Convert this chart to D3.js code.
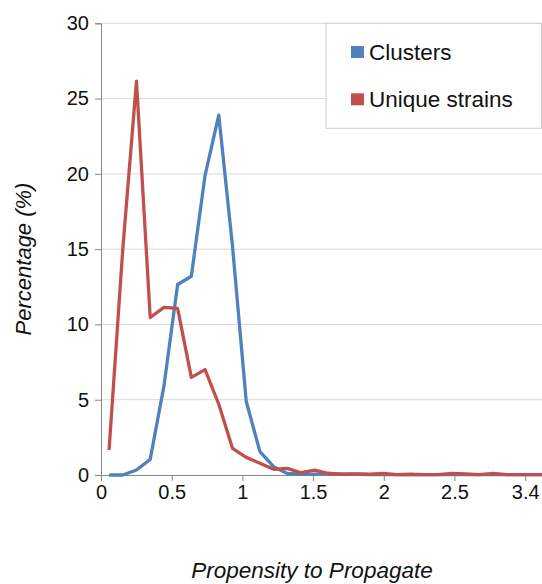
<!DOCTYPE html>
<html>
<head>
<meta charset="utf-8">
<script src="https://cdn.jsdelivr.net/npm/d3@7"></script>
<style>
  html, body { margin: 0; padding: 0; background: #fff; }
  svg { display: block; font-family: "Liberation Sans", Arial, Helvetica, sans-serif; }
</style>
</head>
<body>
<svg id="chart" width="542" height="584"></svg>
<script>
// ---- data ----
const propensity = [0.057, 0.154, 0.251, 0.348, 0.445, 0.542, 0.639, 0.736, 0.833, 0.930,
  1.027, 1.124, 1.221, 1.318, 1.415, 1.512, 1.609, 1.706, 1.803, 1.900,
  1.997, 2.094, 2.191, 2.288, 2.385, 2.482, 2.579, 2.676, 2.773, 2.870,
  2.967, 3.064, 3.161];
const clusters = [0, 0, 0.33, 1.04, 5.9, 12.65, 13.2, 19.9, 23.9, 15.2,
  4.9, 1.55, 0.55, 0.1, 0.05, 0.05, 0.1, 0.05, 0.05, 0.03,
  0.03, 0.03, 0.03, 0.03, 0.03, 0.03, 0.03, 0.03, 0.03, 0.03,
  0.03, 0.03, 0.03];
const uniqueStrains = [1.66, 15.0, 26.16, 10.46, 11.13, 11.06, 6.48, 7.0, 4.7, 1.77,
  1.17, 0.78, 0.38, 0.44, 0.15, 0.33, 0.1, 0.05, 0.08, 0.05,
  0.1, 0.03, 0.05, 0.03, 0.03, 0.1, 0.08, 0.03, 0.1, 0.03,
  0.03, 0.03, 0.03];
const seriesNames = ["Clusters", "Unique strains"];
const seriesColors = ["#4F81BD", "#C0504D"];
const xTickValues = [0, 0.5, 1, 1.5, 2, 2.5, 3];
const xTickLabels = ["0", "0.5", "1", "1.5", "2", "2.5", "3.4"];
const yTickValues = [0, 5, 10, 15, 20, 25, 30];

// ---- layout ----
const svg = d3.select("#chart");
const plotLeft = 101, plotRight = 542, plotTop = 23.3, plotBottom = 475;
const x = d3.scaleLinear().domain([0, 3.119]).range([plotLeft, plotRight]);
const y = d3.scaleLinear().domain([0, 30]).range([plotBottom, plotTop]);

// gridlines
svg.append("g").selectAll("line").data(yTickValues.filter(v => v > 0)).join("line")
  .attr("x1", plotLeft).attr("x2", plotRight)
  .attr("y1", d => y(d)).attr("y2", d => y(d))
  .attr("stroke", "#d9d9d9").attr("stroke-width", 1);

// y axis
const yAxis = svg.append("g").attr("transform", `translate(${plotLeft},0)`)
  .call(d3.axisLeft(y).tickValues(yTickValues).tickSize(6).tickPadding(6));
yAxis.select(".domain").attr("stroke", "#868686");
yAxis.selectAll(".tick line").attr("stroke", "#868686");
yAxis.selectAll(".tick text").attr("font-size", 20).attr("fill", "#111")
  .attr("font-family", "Liberation Sans, Arial, sans-serif");

// x axis
const xAxis = svg.append("g").attr("transform", `translate(0,${plotBottom})`)
  .call(d3.axisBottom(x).tickValues(xTickValues)
    .tickFormat((d, i) => xTickLabels[i]).tickSize(6).tickSizeOuter(0).tickPadding(4));
xAxis.select(".domain").attr("stroke", "#868686");
xAxis.selectAll(".tick line").attr("stroke", "#868686");
xAxis.selectAll(".tick text").attr("font-size", 20).attr("fill", "#111")
  .attr("font-family", "Liberation Sans, Arial, sans-serif");

// clip
svg.append("clipPath").attr("id", "plotclip").append("rect")
  .attr("x", plotLeft).attr("y", 0).attr("width", plotRight - plotLeft).attr("height", plotBottom + 5);

const line = d3.line().x((d, i) => x(propensity[i])).y(d => y(d));
const seriesData = [clusters, uniqueStrains];
svg.append("g").attr("clip-path", "url(#plotclip)")
  .selectAll("path").data(seriesData).join("path")
  .attr("d", d => line(d))
  .attr("fill", "none")
  .attr("stroke", (d, i) => seriesColors[i])
  .attr("stroke-width", 3.3)
  .attr("stroke-linejoin", "round");

// legend
const lg = svg.append("g");
lg.append("rect").attr("x", 326).attr("y", 23.3).attr("width", 215.5).attr("height", 105)
  .attr("fill", "#fff").attr("stroke", "#cfcfcf").attr("stroke-width", 1);
seriesNames.forEach((name, i) => {
  const cy = 52 + i * 47.3;
  lg.append("rect").attr("x", 351).attr("y", cy - 6).attr("width", 13).attr("height", 12)
    .attr("fill", seriesColors[i]);
  lg.append("text").attr("x", 369).attr("y", cy + 8).attr("font-size", 22.5)
    .attr("fill", "#111").text(name);
});

// axis titles
svg.append("text").attr("x", 312).attr("y", 578).attr("text-anchor", "middle")
  .attr("font-size", 22.5).attr("font-style", "italic").attr("fill", "#111")
  .text("Propensity to Propagate");
svg.append("text").attr("transform", "translate(31,259) rotate(-90)")
  .attr("text-anchor", "middle")
  .attr("font-size", 22).attr("font-style", "italic").attr("fill", "#111")
  .text("Percentage (%)");
</script>
</body>
</html>
